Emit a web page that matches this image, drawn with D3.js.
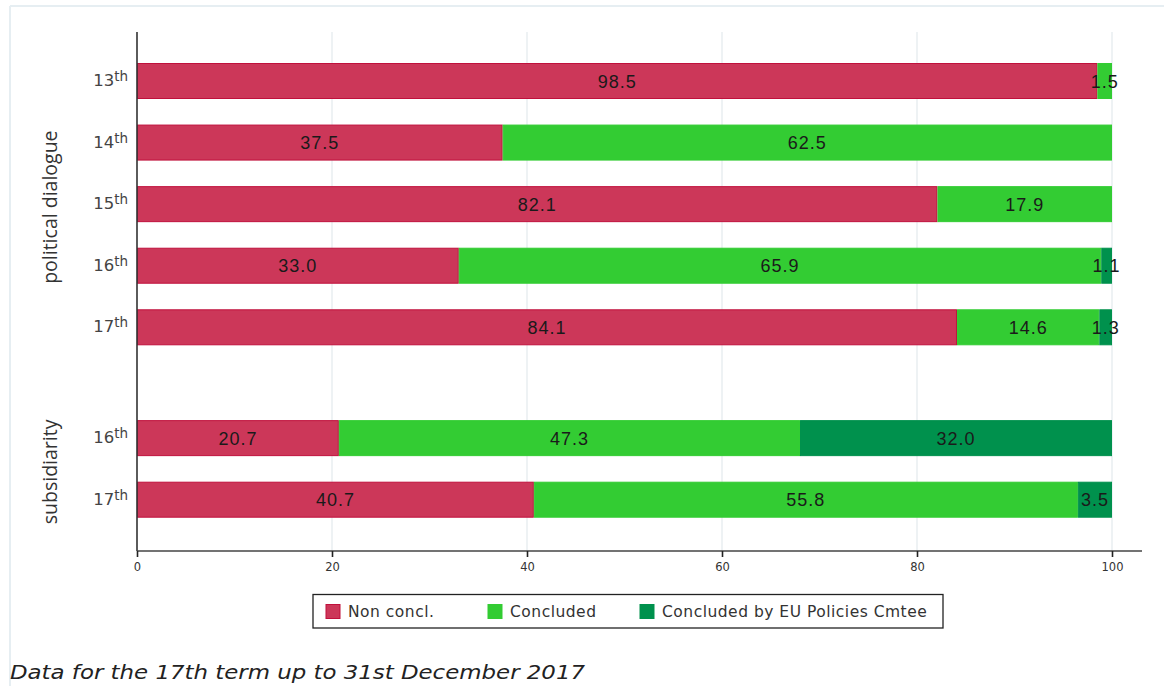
<!DOCTYPE html>
<html>
<head>
<meta charset="utf-8">
<script src="https://cdn.jsdelivr.net/npm/d3@7"></script>
<style>
  html, body { margin: 0; padding: 0; background: #fff; }
  svg { display: block; }
</style>
</head>
<body>
<svg id="chart" width="1164" height="686"></svg>
<script>
// Outcome of opinions by parliamentary term (percent of total)
const groups = ["political dialogue", "subsidiarity"];
const rowGroup = [0, 0, 0, 0, 0, 1, 1];
const terms = ["13", "14", "15", "16", "17", "16", "17"];
const nonConcl = [98.5, 37.5, 82.1, 33.0, 84.1, 20.7, 40.7];
const concluded = [1.5, 62.5, 17.9, 65.9, 14.6, 47.3, 55.8];
const byCmtee = [0, 0, 0, 1.1, 1.3, 32.0, 3.5];
const seriesNames = ["Non concl.", "Concluded", "Concluded by EU Policies Cmtee"];
const xTicks = [0, 20, 40, 60, 80, 100];
const caption = "Data for the 17th term up to 31st December 2017";

const colors = ["#cc3759", "#33cc33", "#00914d"];
const strokes = ["#c0103c", "#33cc33", "#00914d"];

const svg = d3.select("#chart");

// light frame on the top and left edges
svg.append("line").attr("x1", 10).attr("x2", 1164).attr("y1", 6).attr("y2", 6)
  .attr("stroke", "#e6eef2").attr("stroke-width", 2);
svg.append("line").attr("x1", 10).attr("x2", 10).attr("y1", 6).attr("y2", 686)
  .attr("stroke", "#e6eef2").attr("stroke-width", 2);

const plotTop = 32, plotBottom = 551;
const x = d3.scaleLinear().domain([0, 100]).range([137, 1112]);

// row slots: a small gap separates the two groups
const groupGap = 0.8;
const slot = (i) => i + rowGroup[i] * groupGap;
const y = d3.scaleLinear().domain([0, slot(terms.length - 1)]).range([63, 481.7]);
const barH = 36;

// vertical gridlines
svg.append("g").selectAll("line").data(xTicks.filter(d => d > 0)).join("line")
  .attr("x1", d => x(d)).attr("x2", d => x(d))
  .attr("y1", plotTop).attr("y2", plotBottom)
  .attr("stroke", "#e8eef1").attr("stroke-width", 1.5);

// stacked segments
const stackData = terms.map((t, i) => ({ i, v: [nonConcl[i], concluded[i], byCmtee[i]] }));
const segs = [];
stackData.forEach(r => {
  let acc = 0;
  r.v.forEach((v, s) => {
    if (v > 0) segs.push({ row: r.i, s, x0: acc, x1: acc + v, v });
    acc += v;
  });
});

const gBars = svg.append("g");
gBars.selectAll("rect").data(segs).join("rect")
  .attr("x", d => x(d.x0) + 0.5)
  .attr("y", d => y(slot(d.row)) + 0.5)
  .attr("width", d => Math.max(0, x(d.x1) - x(d.x0) - 1))
  .attr("height", barH - 1)
  .attr("fill", d => colors[d.s])
  .attr("stroke", d => strokes[d.s])
  .attr("stroke-width", 1);

gBars.selectAll("text").data(segs).join("text")
  .attr("x", d => x((d.x0 + d.x1) / 2))
  .attr("y", d => y(slot(d.row)) + barH / 2 + 6.5)
  .attr("text-anchor", "middle")
  .attr("font-family", "Liberation Sans, Arial, sans-serif")
  .attr("font-size", 18)
  .attr("letter-spacing", 1)
  .attr("fill", "#1a1a1a")
  .text(d => d.v.toFixed(1));

// y axis line
svg.append("line").attr("x1", x(0)).attr("x2", x(0))
  .attr("y1", plotTop).attr("y2", plotBottom)
  .attr("stroke", "#333").attr("stroke-width", 1.6);

// x axis
const xAxis = d3.axisBottom(x).tickValues(xTicks).tickSize(6).tickPadding(6).tickFormat(d3.format("d"));
const gx = svg.append("g").attr("transform", `translate(0,${plotBottom})`).call(xAxis);
gx.select(".domain").attr("d", `M${x(0)},0H1142`).attr("stroke", "#444").attr("stroke-width", 1.6);
gx.selectAll(".tick line").attr("stroke", "#222").attr("stroke-width", 1.6);
gx.selectAll(".tick text").attr("font-family", "DejaVu Sans, Verdana, sans-serif")
  .attr("font-size", 11.5).attr("fill", "#333");

// term labels with superscript ordinal
const lab = svg.append("g").selectAll("text").data(terms).join("text")
  .attr("x", 128)
  .attr("y", (d, i) => y(slot(i)) + 23)
  .attr("text-anchor", "end")
  .attr("font-family", "DejaVu Sans, Verdana, sans-serif")
  .attr("fill", "#444");
lab.append("tspan").attr("font-size", 16.5).text(d => d);
lab.append("tspan").attr("font-size", 13.5).attr("dy", -5).text("th");

// group labels (rotated)
groups.forEach((g, gi) => {
  const rows = d3.range(terms.length).filter(i => rowGroup[i] === gi);
  const cy = (y(slot(d3.min(rows))) + y(slot(d3.max(rows))) + barH) / 2;
  svg.append("text")
    .attr("transform", `translate(57,${cy + 3}) rotate(-90)`)
    .attr("text-anchor", "middle")
    .attr("font-family", "Open Sans, sans-serif")
    .attr("font-size", 19.5)
    .attr("fill", "#333")
    .text(g);
});

// legend
const lg = svg.append("g");
lg.append("rect").attr("x", 313).attr("y", 594.5).attr("width", 630).attr("height", 33.5)
  .attr("fill", "#fff").attr("stroke", "#222").attr("stroke-width", 1.3);
const legX = [326, 488, 640];
seriesNames.forEach((n, k) => {
  lg.append("rect").attr("x", legX[k]).attr("y", 604.5).attr("width", 14).attr("height", 14)
    .attr("fill", colors[k]).attr("stroke", strokes[k]);
  lg.append("text").attr("x", legX[k] + 22).attr("y", 617)
    .attr("font-family", "DejaVu Sans, Verdana, sans-serif").attr("font-size", 15.5)
    .attr("letter-spacing", 0.5)
    .attr("fill", "#333").text(n);
});

// footnote
svg.append("text").attr("x", 10).attr("y", 679)
  .attr("font-family", "DejaVu Sans, sans-serif").attr("font-style", "italic")
  .attr("font-size", 19.5).attr("fill", "#222")
  .attr("textLength", 575).attr("lengthAdjust", "spacingAndGlyphs")
  .text(caption);
</script>
</body>
</html>
